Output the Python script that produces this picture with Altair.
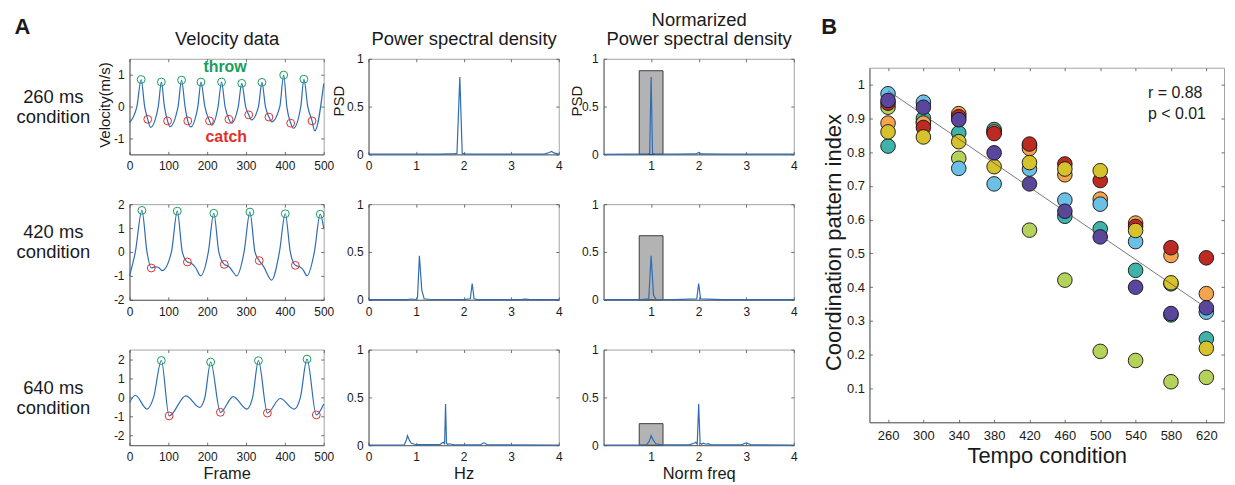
import altair as alt
import pandas as pd

FONT = "Liberation Sans"
TXT = "#1a1a1a"
BLUE = "#2e6db4"
GREEN = "#1a9e5a"
RED = "#e0302a"
AXC = "#4d4d4d"

# ---------------- Panel A: velocity traces ----------------
vel_frame_260 = [0, 19, 30, 39, 47, 54, 74, 82, 90, 98, 104, 125, 134, 143, 150, 157,
                 176, 184, 194, 206, 212, 228, 237, 246, 256, 262, 280, 289, 299, 307,
                 314, 332, 341, 350, 359, 366, 387, 397, 405, 415, 422, 441, 449, 459,
                 470, 477, 500]
vel_value_260 = [-0.50, 0.00, 0.85, 0.00, -0.40, -0.65, 0.00, 0.77, 0.00, -0.45, -0.63,
                 0.00, 0.83, 0.00, -0.45, -0.64, 0.00, 0.77, 0.00, -0.45, -0.58, 0.00,
                 0.77, 0.00, -0.40, -0.52, 0.00, 0.73, 0.00, -0.26, -0.42, 0.00, 0.76,
                 0.00, -0.33, -0.48, 0.00, 0.99, 0.00, -0.52, -0.68, 0.00, 0.86, 0.00,
                 -0.45, -0.76, 0.72]
throw_frame_260 = [30, 82, 134, 184, 237, 289, 341, 397, 449]
throw_value_260 = [0.85, 0.77, 0.83, 0.77, 0.77, 0.73, 0.76, 0.99, 0.86]
catch_frame_260 = [47, 98, 150, 206, 256, 307, 359, 415, 470]
catch_value_260 = [-0.40, -0.45, -0.45, -0.45, -0.40, -0.26, -0.33, -0.52, -0.45]

vel_frame_420 = [0, 15, 32, 45, 56, 66, 74, 84, 108, 123, 136, 149, 160, 170, 183,
                 203, 217, 230, 244, 255, 265, 276, 295, 310, 323, 334, 345, 366,
                 386, 401, 414, 427, 438, 447, 457, 476, 491, 500]
vel_value_420 = [-1.00, 0.00, 1.74, 0.00, -0.67, -0.62, -0.64, -0.78, 0.00, 1.71, 0.00,
                 -0.42, -0.48, -0.65, -1.00, 0.00, 1.62, 0.00, -0.52, -0.60, -0.80, -1.00,
                 0.00, 1.67, 0.00, -0.36, -0.60, -1.18, 0.00, 1.60, 0.00, -0.56, -0.62,
                 -0.75, -1.00, 0.00, 1.58, 1.00]
throw_frame_420 = [32, 123, 217, 310, 401, 491]
throw_value_420 = [1.74, 1.71, 1.62, 1.67, 1.60, 1.58]
catch_frame_420 = [56, 149, 244, 334, 427]
catch_value_420 = [-0.67, -0.42, -0.52, -0.36, -0.56]

vel_frame_640 = [0, 15, 45, 62, 82, 102, 145, 181, 194, 209, 234, 267, 302, 317, 332,
                 355, 388, 424, 440, 457, 481, 500]
vel_value_640 = [-0.27, 0.11, -0.61, 0.00, 1.93, -0.97, 0.08, -0.52, 0.00, 1.85, -0.78,
                 0.04, -0.61, 0.00, 1.92, -0.82, -0.06, -0.61, 0.00, 2.00, -0.92, -0.35]
throw_frame_640 = [82, 209, 332, 457]
throw_value_640 = [1.93, 1.85, 1.92, 2.00]
catch_frame_640 = [102, 234, 355, 481]
catch_value_640 = [-0.97, -0.78, -0.82, -0.92]

annot_text = ["throw", "catch"]
annot_frame = [246, 249]
annot_vel = [1.07, -1.12]

# ---------------- Panel A: power spectral density ----------------
psd_hz_260 = [0, 0.5, 1.0, 1.5, 1.7, 1.8, 1.86, 1.92, 1.97, 2.05, 2.2, 3.0, 3.7, 3.8, 3.85, 3.9, 4.0]
psd_260 = [0.002, 0.002, 0.003, 0.002, 0.005, 0.006, 0.01, 0.81, 0.01, 0.004, 0.002, 0.002,
           0.003, 0.02, 0.03, 0.015, 0.003]
psd_hz_420 = [0, 0.8, 0.9, 1.0, 1.03, 1.07, 1.12, 1.17, 1.3, 2.0, 2.14, 2.18, 2.22, 2.3,
              3.2, 3.3, 3.4, 4.0]
psd_420 = [0.002, 0.002, 0.008, 0.003, 0.02, 0.46, 0.1, 0.01, 0.003, 0.002, 0.01, 0.17,
           0.01, 0.002, 0.002, 0.006, 0.002, 0.002]
psd_hz_640 = [0, 0.75, 0.8, 0.82, 0.86, 0.9, 1.0, 1.5, 1.55, 1.58, 1.6, 1.62, 1.64, 1.66,
              1.7, 1.75, 1.8, 2.35, 2.42, 2.45, 2.5, 4.0]
psd_640 = [0.002, 0.003, 0.06, 0.1, 0.05, 0.02, 0.005, 0.005, 0.025, 0.03, 0.01, 0.43,
           0.02, 0.01, 0.015, 0.01, 0.003, 0.003, 0.025, 0.02, 0.003, 0.002]

norm_f_260 = [0, 0.5, 0.89, 0.94, 0.97, 1.0, 1.03, 1.07, 1.5, 1.95, 2.0, 2.05, 2.5, 4.0]
norm_psd_260 = [0.001, 0.002, 0.003, 0.005, 0.01, 0.81, 0.01, 0.003, 0.002, 0.005, 0.02,
                0.005, 0.002, 0.002]
norm_f_420 = [0, 0.8, 0.95, 1.0, 1.05, 1.1, 1.5, 1.96, 2.0, 2.04, 2.5, 3.0, 4.0]
norm_psd_420 = [0.002, 0.002, 0.01, 0.46, 0.05, 0.005, 0.002, 0.01, 0.17, 0.01, 0.002,
                0.002, 0.002]
norm_f_640 = [0, 0.9, 0.96, 1.0, 1.05, 1.1, 1.2, 1.8, 1.9, 1.94, 1.97, 2.0, 2.03, 2.06,
              2.1, 2.15, 2.2, 2.25, 2.9, 3.0, 3.05, 3.1, 4.0]
norm_psd_640 = [0.002, 0.003, 0.04, 0.1, 0.05, 0.015, 0.005, 0.003, 0.02, 0.03, 0.01, 0.43,
                0.02, 0.01, 0.02, 0.01, 0.015, 0.003, 0.003, 0.025, 0.015, 0.003, 0.002]

band_lo = [0.75, 0.75, 0.75]
band_hi = [1.25, 1.25, 1.25]
band_power = [0.875, 0.67, 0.225]

row_labels = [["260 ms", "condition"], ["420 ms", "condition"], ["640 ms", "condition"]]

# ---------------- Panel B ----------------
tempo_conditions = [260, 300, 340, 380, 420, 460, 500, 540, 580, 620]
subject_ids = ["P1", "P2", "P3", "P4", "P5", "P6", "P7"]
subject_colors = ["#b5d25a", "#3fb3aa", "#f3a44f", "#bd2a24", "#6cc0e5", "#d6c22c", "#5b469d"]
cpi_p1 = [0.933, 0.890, 0.782, 0.860, 0.569, 0.421, 0.210, 0.183, 0.120, 0.133]
cpi_p2 = [0.818, 0.900, 0.857, 0.867, 0.820, 0.610, 0.573, 0.450, 0.318, 0.247]
cpi_p3 = [0.886, 0.886, 0.914, 0.860, 0.811, 0.733, 0.661, 0.590, 0.494, 0.381]
cpi_p4 = [0.945, 0.873, 0.905, 0.855, 0.824, 0.765, 0.716, 0.580, 0.517, 0.487]
cpi_p5 = [0.973, 0.948, 0.752, 0.706, 0.750, 0.658, 0.646, 0.535, 0.410, 0.326]
cpi_p6 = [0.860, 0.845, 0.831, 0.757, 0.769, 0.750, 0.745, 0.568, 0.413, 0.219]
cpi_p7 = [0.953, 0.933, 0.896, 0.798, 0.706, 0.625, 0.549, 0.400, 0.322, 0.339]
stats_text = ["r = 0.88", "p < 0.01"]
stats_tempo = [554, 554]
stats_cpi = [0.959, 0.897]


# ---------------- helpers ----------------
def label_axis(orient, values, size=12, pad=5.5, **kw):
    args = dict(orient=orient, values=values, ticks=False, tickSize=0, grid=False,
                domain=True, domainColor=AXC, domainWidth=0.8,
                labelFont=FONT, labelFontSize=size, labelColor=TXT, labelPadding=pad,
                labelExpr="'' + datum.value", labelFlush=False, labelOverlap=False,
                titleFont=FONT, titleColor=TXT, titleFontWeight="normal")
    if "title" not in kw:
        args["title"] = None
    args.update(kw)
    return alt.Axis(**args)


def tick_axis(orient, values, **kw):
    args = dict(orient=orient, values=values, offset=-3, ticks=True, tickSize=3,
                tickWidth=0.8, tickColor=AXC, labels=False, domain=False, grid=False,
                titleFont=FONT, titleColor=TXT, titleFontWeight="normal")
    if "title" not in kw:
        args["title"] = None
    args.update(kw)
    return alt.Axis(**args)


def scale(dom):
    return alt.Scale(domain=dom, nice=False, zero=False)


def panel(df, xf, yf, xdom, ydom, xvals, yvals, w, h, line_kw,
          xkw=None, ykw=None, blx=None, bly=None, trx=None, trY=None,
          under=(), over=()):
    xs, ys = scale(xdom), scale(ydom)
    main = alt.Chart(df).mark_line(**line_kw).encode(
        x=alt.X(f"{xf}:Q", scale=xs, axis=label_axis("bottom", xvals, pad=6.5, **(xkw or {}))),
        y=alt.Y(f"{yf}:Q", scale=ys, axis=label_axis("left", yvals, **(ykw or {}))),
    )
    t1 = alt.Chart(df).mark_point(opacity=0).encode(
        x=alt.X(f"{xf}:Q", scale=xs, axis=tick_axis("bottom", xvals, **(blx or {}))),
        y=alt.Y(f"{yf}:Q", scale=ys, axis=tick_axis("left", yvals, **(bly or {}))),
    )
    t2 = alt.Chart(df).mark_point(opacity=0).encode(
        x=alt.X(f"{xf}:Q", scale=xs, axis=tick_axis("top", xvals, **(trx or {}))),
        y=alt.Y(f"{yf}:Q", scale=ys, axis=tick_axis("right", yvals, **(trY or {}))),
    )
    layers = [u(xs, ys) for u in under] + [main] + [o(xs, ys) for o in over] + [t1, t2]
    return alt.layer(*layers).resolve_axis(x="independent", y="independent").properties(width=w, height=h)


def circles(frames, values, color):
    def make(xs, ys):
        return alt.Chart(pd.DataFrame({"frame": frames, "vel": values})).mark_point(
            shape="circle", filled=False, size=62, strokeWidth=1, color=color, opacity=1
        ).encode(x=alt.X("frame:Q", scale=xs, axis=None), y=alt.Y("vel:Q", scale=ys, axis=None))
    return make


def annotations(xs, ys):
    return alt.Chart(pd.DataFrame({"frame": annot_frame, "vel": annot_vel, "label": annot_text})).mark_text(
        font=FONT, fontSize=16, fontWeight="bold", align="center", baseline="alphabetic"
    ).encode(
        x=alt.X("frame:Q", scale=xs, axis=None), y=alt.Y("vel:Q", scale=ys, axis=None),
        text="label:N",
        color=alt.Color("label:N", scale=alt.Scale(domain=annot_text, range=[GREEN, RED]), legend=None),
    )


def band(i):
    def make(xs, ys):
        return alt.Chart(pd.DataFrame({"lo": [band_lo[i]], "hi": [band_hi[i]], "p": [band_power[i]]})).mark_rect(
            fill="#b3b3b3", stroke="#3c3c3c", strokeWidth=1
        ).encode(x=alt.X("lo:Q", scale=xs, axis=None), x2="hi:Q",
                 y=alt.Y("p:Q", scale=ys, axis=None), y2=alt.datum(0))
    return make


def row_label_kw(i, ty):
    return dict(title=row_labels[i], titleAngle=0, titleAlign="center", titleBaseline="top",
                titleX=-80, titleY=ty, titleFontSize=18.5, titleLineHeight=20)


def col_title_kw(text, w, ty, lines=1):
    d = dict(title=text, titleAngle=0, titleAlign="center", titleBaseline="top",
             titleX=w / 2, titleY=ty, titleFontSize=18.5)
    if lines > 1:
        d["titleLineHeight"] = 19
    return d


VW, PW, H = 195, 191, 96
vel_sets = [
    (vel_frame_260, vel_value_260, throw_frame_260, throw_value_260, catch_frame_260, catch_value_260, [-1.5, 1.5], [-1, 0, 1]),
    (vel_frame_420, vel_value_420, throw_frame_420, throw_value_420, catch_frame_420, catch_value_420, [-2, 2], [-2, -1, 0, 1, 2]),
    (vel_frame_640, vel_value_640, throw_frame_640, throw_value_640, catch_frame_640, catch_value_640, [-2.5, 2.5], [-2, -1, 0, 1, 2]),
]
psd_sets = [(psd_hz_260, psd_260), (psd_hz_420, psd_420), (psd_hz_640, psd_640)]
norm_sets = [(norm_f_260, norm_psd_260), (norm_f_420, norm_psd_420), (norm_f_640, norm_psd_640)]
row_label_y = [28.8, 18.5, 29.1]

line_style = dict(color=BLUE, strokeWidth=1.2)
frame_ticks = [0, 100, 200, 300, 400, 500]
hz_ticks = [0, 1, 2, 3, 4]
psd_ticks = [0, 0.5, 1]

cells = []
for i in range(3):
    vf, vv, tf, tv, cf, cv, ydom, yt = vel_sets[i]
    over = [circles(tf, tv, GREEN), circles(cf, cv, RED)]
    if i == 0:
        over.append(annotations)
    vel = panel(
        pd.DataFrame({"frame": vf, "vel": vv}), "frame", "vel", [0, 500], ydom, frame_ticks, yt, VW, H,
        dict(interpolate="monotone", **line_style),
        xkw=(dict(title="Frame", titleFontSize=16.5, titleY=33.5, titleBaseline="alphabetic") if i == 2 else None),
        ykw=(dict(title="Velocity(m/s)", titleFontSize=15, titleX=-20, titleY=46, titleAlign="center",
                  titleBaseline="alphabetic") if i == 0 else None),
        blx=(dict(title="A", titleX=-116, titleY=-118, titleAlign="left", titleBaseline="alphabetic",
                  titleFontSize=22, titleFontWeight="bold", titleAngle=0) if i == 0 else None),
        bly=row_label_kw(i, row_label_y[i]),
        trx=(col_title_kw("Velocity data", VW, -32.3) if i == 0 else None),
        over=over,
    )
    hz, pw = psd_sets[i]
    psd = panel(
        pd.DataFrame({"hz": hz, "psd": pw}), "hz", "psd", [0, 4], [0, 1], hz_ticks, psd_ticks, PW, H,
        line_style,
        xkw=(dict(title="Hz", titleFontSize=16.5, titleY=33.5, titleBaseline="alphabetic") if i == 2 else None),
        ykw=(dict(title="PSD", titleFontSize=15, titleX=-25, titleY=42, titleAlign="center",
                  titleBaseline="alphabetic") if i == 0 else None),
        trx=(col_title_kw("Power spectral density", PW, -32.3) if i == 0 else None),
    )
    nf, npw = norm_sets[i]
    npsd = panel(
        pd.DataFrame({"nf": nf, "psd": npw}), "nf", "psd", [0, 4], [0, 1], [1, 2, 3, 4], psd_ticks, PW, H,
        line_style,
        xkw=(dict(title="Norm freq", titleFontSize=16.5, titleY=33.5, titleBaseline="alphabetic") if i == 2 else None),
        ykw=(dict(title="PSD", titleFontSize=15, titleX=-22, titleY=42, titleAlign="center",
                  titleBaseline="alphabetic") if i == 0 else None),
        trx=(col_title_kw(["Normarized", "Power spectral density"], PW, -51.2, lines=2) if i == 0 else None),
        under=[band(i)],
    )
    cells += [vel, psd, npsd]

panel_a = alt.concat(*cells, columns=3, spacing={"row": 50, "column": 45}, bounds="flush", align="each")

# ---------------- Panel B chart ----------------
cpi_all = [cpi_p1, cpi_p2, cpi_p3, cpi_p4, cpi_p5, cpi_p6, cpi_p7]
rows = []
for sid, vals in zip(subject_ids, cpi_all):
    for t, v in zip(tempo_conditions, vals):
        rows.append({"tempo": t, "cpi": v, "subject": sid})
df_b = pd.DataFrame(rows)
cpi_ticks = [0.1, 0.2, 0.3, 0.4, 0.5, 0.6, 0.7, 0.8, 0.9, 1.0]
xsB, ysB = scale([239, 640]), scale([0, 1.05])
BW = BH = 356

pts = alt.Chart(df_b).mark_point(shape="circle", filled=True, size=215, stroke="#111111",
                                 strokeWidth=0.9, opacity=1).encode(
    x=alt.X("tempo:Q", scale=xsB, axis=label_axis("bottom", tempo_conditions, size=13, pad=7,
                                                  title="Tempo condition", titleFontSize=22,
                                                  titleY=40, titleBaseline="alphabetic")),
    y=alt.Y("cpi:Q", scale=ysB, axis=label_axis("left", cpi_ticks, size=13, pad=5,
                                                title="Coordination pattern index", titleFontSize=22,
                                                titleX=-29, titleY=175, titleAlign="center",
                                                titleBaseline="alphabetic")),
    fill=alt.Fill("subject:N", scale=alt.Scale(domain=subject_ids, range=subject_colors), legend=None),
)
reg = alt.Chart(df_b).transform_regression("tempo", "cpi").mark_line(color="#555555", strokeWidth=0.8).encode(
    x=alt.X("tempo:Q", scale=xsB, axis=None), y=alt.Y("cpi:Q", scale=ysB, axis=None))
stats = alt.Chart(pd.DataFrame({"tempo": stats_tempo, "cpi": stats_cpi, "label": stats_text})).mark_text(
    font=FONT, fontSize=16, align="left", baseline="alphabetic", color=TXT).encode(
    x=alt.X("tempo:Q", scale=xsB, axis=None), y=alt.Y("cpi:Q", scale=ysB, axis=None), text="label:N")
tb1 = alt.Chart(df_b).mark_point(opacity=0).encode(
    x=alt.X("tempo:Q", scale=xsB, axis=tick_axis("bottom", tempo_conditions, title="B", titleX=-49,
                                                 titleY=-387, titleAlign="left", titleBaseline="alphabetic",
                                                 titleFontSize=22, titleFontWeight="bold", titleAngle=0)),
    y=alt.Y("cpi:Q", scale=ysB, axis=tick_axis("left", cpi_ticks)))
tb2 = alt.Chart(df_b).mark_point(opacity=0).encode(
    x=alt.X("tempo:Q", scale=xsB, axis=tick_axis("top", tempo_conditions)),
    y=alt.Y("cpi:Q", scale=ysB, axis=tick_axis("right", cpi_ticks)))
panel_b = alt.layer(pts, reg, stats, tb1, tb2).resolve_axis(x="independent", y="independent").properties(
    width=BW, height=BH)

spacer = alt.Chart(pd.DataFrame({"v": [0]})).mark_point(opacity=0).encode(
    x=alt.value(0), y=alt.value(0)).properties(width=BW, height=1, view=alt.ViewBackground(strokeOpacity=0))
panel_b_group = alt.vconcat(spacer, panel_b, spacing=8, bounds="flush")

chart = alt.hconcat(panel_a, panel_b_group, spacing=22).properties(
    padding={"left": 5, "top": 1, "right": 2, "bottom": 0}
).configure_view(stroke="#a3a3a3", strokeWidth=1).configure_axis(labelFont=FONT, titleFont=FONT)

chart.save("out.html", embed_options={"renderer": "svg", "actions": False})
